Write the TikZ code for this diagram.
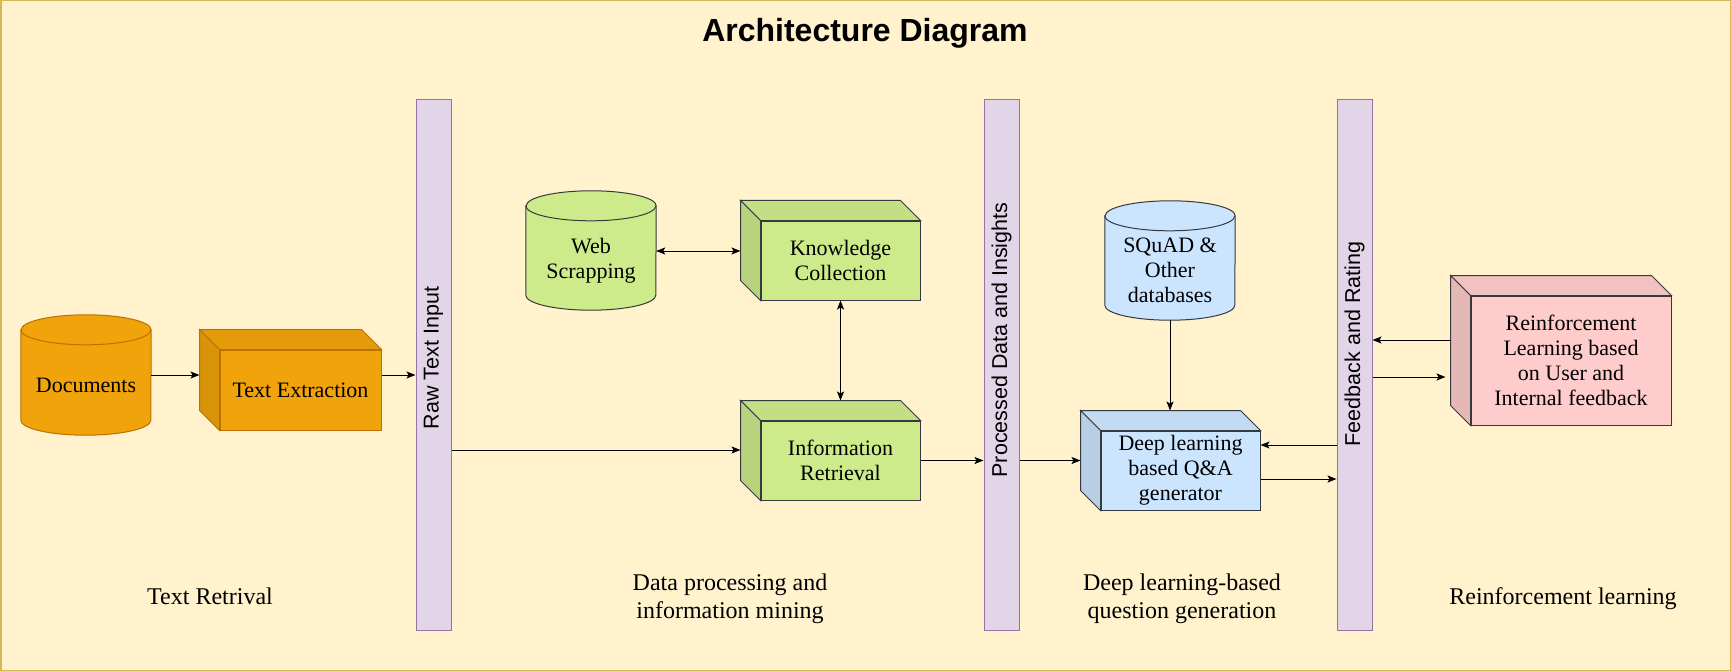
\documentclass[tikz,border=0pt]{standalone}
\usepackage{fontspec}
\usepackage{graphicx}
\setmainfont{Liberation Serif}
\newfontfamily\arialf{Liberation Sans}
\usetikzlibrary{arrows.meta}
\definecolor{bgc}{HTML}{FFF2CC}
\definecolor{bgs}{HTML}{D6B656}
\definecolor{orF}{HTML}{F0A30A}
\definecolor{orS}{HTML}{BD7000}
\definecolor{grF}{HTML}{CDEB8B}
\definecolor{blF}{HTML}{CCE5FF}
\definecolor{pkF}{HTML}{FFCCCC}
\definecolor{dkS}{HTML}{36393D}
\definecolor{barF}{HTML}{E1D5E7}
\definecolor{barS}{HTML}{9673A6}
\pgfdeclarelayer{back}
\pgfdeclarelayer{shapes}
\pgfsetlayers{back,shapes,main}
\newcommand\nfont{\fontsize{22}{25}\selectfont}
\newcommand\lfont{\fontsize{24}{28}\selectfont}
\newcommand\bfont{\arialf\fontsize{21.5}{25}\selectfont}
\newcommand\cylout[3]{%
  \draw[fill=#2,draw=#3,line width=1pt] ([yshift=5pt]#1.north west) -- ([yshift=15pt]#1.south west)
    arc[start angle=180,end angle=360,x radius=65pt,y radius=15pt]
    -- ([yshift=5pt]#1.north east)
    arc[start angle=0,end angle=180,x radius=65pt,y radius=15pt] -- cycle;
  \draw[draw=#3,line width=1pt] ([yshift=5pt]#1.north west)
    arc[start angle=180,end angle=360,x radius=65pt,y radius=15pt];}
\newcommand\cubeout[3]{%
  \draw[fill=#2!95!black,draw=#3,line width=1pt,line join=miter] (#1.north west) -- ++(-20pt,20pt)
    -- ([xshift=-20pt,yshift=20pt]#1.north east) -- (#1.north east) -- cycle;
  \draw[fill=#2!90!black,draw=#3,line width=1pt,line join=miter] (#1.north west) -- ++(-20pt,20pt)
    -- ([xshift=-20pt,yshift=20pt]#1.south west) -- (#1.south west) -- cycle;}
\begin{document}
\begin{tikzpicture}[x=1pt,y=-1pt,
  box/.style={draw=dkS,line width=1pt,inner sep=0pt,align=center,font=\nfont},
  cylnode/.style={draw=none,inner sep=0pt,align=center,font=\nfont,minimum width=130pt},
  barst/.style={draw=barS,fill=barF,line width=1pt,minimum width=35pt,minimum height=530pt,inner sep=0pt,font=\bfont},
  lab/.style={align=center,font=\lfont,inner sep=0pt},
  arr/.style={line width=1pt,-{Stealth[length=9pt,width=7pt,inset=2pt]}},
  darr/.style={line width=1pt,{Stealth[length=9pt,width=7pt,inset=2pt]}-{Stealth[length=9pt,width=7pt,inset=2pt]}}]
\useasboundingbox (0,0) rectangle (1731,671);
\begin{pgfonlayer}{back}
  \fill[bgc] (0,0) rectangle (1731,671);
  \draw[bgs,line width=1.5pt] (0.75,0.75) rectangle (1730.25,670.25);
\end{pgfonlayer}

% title
\node[anchor=base,inner sep=0pt,font=\arialf\bfseries\fontsize{32}{38}\selectfont] (title) at (865,42) {Architecture Diagram};

% bars
\node[barst] (raw) at (433.5,365) {\rotatebox{90}{\hspace*{14pt}Raw Text Input}};
\node[barst] (proc) at (1001.5,365) {\rotatebox{90}{\hspace*{50pt}Processed Data and Insights}};
\node[barst] (fb) at (1354.5,365) {\rotatebox{90}{\hspace*{42pt}Feedback and Rating}};

% cylinders
\node[cylnode,minimum height=100pt] (doc) at (86,385) {Documents};
\node[cylnode,minimum height=99pt] (web) at (591,260.5) {Web\\Scrapping};
\node[cylnode,minimum height=99pt] (sq) at (1170,270.5) {SQuAD \&\\Other\\databases};
\begin{pgfonlayer}{shapes}
  \cylout{doc}{orF}{orS}
  \cylout{web}{grF}{dkS}
  \cylout{sq}{blF}{dkS}
\end{pgfonlayer}

% cubes (front faces)
\node[box,draw=orS,fill=orF,minimum width=161pt,minimum height=80pt] (te) at (300.5,390) {Text Extraction};
\node[box,fill=grF,minimum width=159pt,minimum height=79pt] (kc) at (840.5,260.5) {Knowledge\\Collection};
\node[box,fill=grF,minimum width=159pt,minimum height=79pt] (ir) at (840.5,460.5) {Information\\Retrieval};
\node[box,fill=blF,minimum width=159pt,minimum height=79pt] (dl) at (1180.5,470.5) {Deep learning\\based Q\&A\\generator};
\node[box,fill=pkF,minimum width=200pt,minimum height=129pt] (rl) at (1571,360.5) {Reinforcement\\Learning based\\on User and\\Internal feedback};
\begin{pgfonlayer}{shapes}
  \cubeout{te}{orF}{orS}
  \cubeout{kc}{grF}{dkS}
  \cubeout{ir}{grF}{dkS}
  \cubeout{dl}{blF}{dkS}
  \cubeout{rl}{pkF}{dkS}
\end{pgfonlayer}

% bottom labels
\node[lab,anchor=base] (l1) at (210,604) {Text Retrival};
\node[lab] (l2) at (730,598.5) {Data processing and\\information mining};
\node[lab] (l3) at (1182,598.5) {Deep learning-based\\question generation};
\node[lab,anchor=base] (l4) at (1563,604) {Reinforcement learning};

% connectors
\draw[arr] ([yshift=10pt]doc.east) -- ([xshift=-20pt,yshift=15pt]te.west);
\draw[arr] ([yshift=15pt]te.east) -- ([yshift=-10pt]raw.west);
\draw[arr] ([yshift=-85pt]raw.east) -- ([xshift=-20pt,yshift=10.5pt]ir.west);
\draw[darr] ([yshift=9.5pt]web.east) -- ([xshift=-20pt,yshift=9.5pt]kc.west);
\draw[darr] (kc.south) -- ([yshift=20pt]ir.north);
\draw[arr] (ir.east) -- (ir.east -| proc.west);
\draw[arr] (proc.east |- ir.east) -- ([xshift=-20pt,yshift=10pt]dl.west);
\draw[arr] (sq.south) -- ([xshift=-10.5pt,yshift=20pt]dl.north);
\draw[arr] ([yshift=-80pt]fb.west) -- ([yshift=25.5pt]dl.east);
\draw[arr] ([yshift=-8.5pt]dl.east) -- ([yshift=-114pt]fb.west);
\draw[arr] ([xshift=-20pt,yshift=20.5pt]rl.west) -- ([yshift=25pt]fb.east);
\draw[arr] ([yshift=-12pt]fb.east) -- ([xshift=-25pt,yshift=-16.5pt]rl.west);
\end{tikzpicture}
\end{document}
